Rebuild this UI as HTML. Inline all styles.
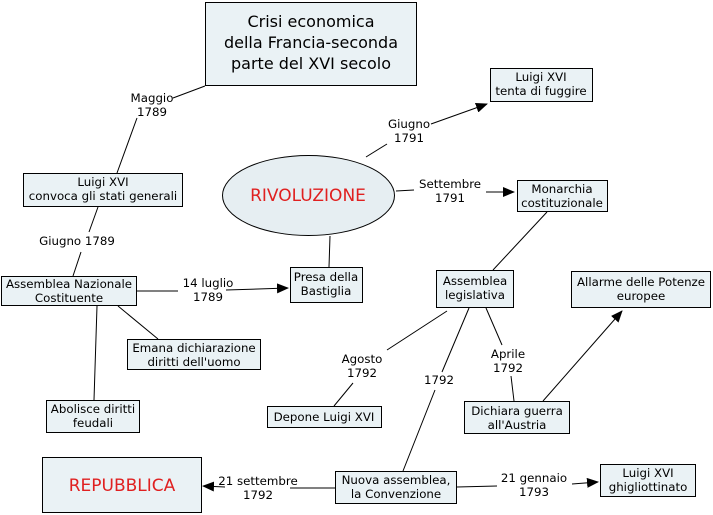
<!DOCTYPE html>
<html><head><meta charset="utf-8"><style>
html,body{margin:0;padding:0;background:#fff;}
svg{display:block;}
text{font-family:"DejaVu Sans","Liberation Sans",sans-serif;font-size:11.8px;fill:#000;text-anchor:middle;}
.b{fill:#eaf2f5;stroke:#000;stroke-width:1;}
.l{stroke:#000;stroke-width:1;fill:none;}
</style></head><body>
<svg width="713" height="515" viewBox="0 0 713 515">
<defs><marker id="a" markerWidth="12" markerHeight="10" refX="11" refY="5" orient="auto" markerUnits="userSpaceOnUse"><path d="M0,0 L12,5 L0,10 z" fill="#000"/></marker></defs>
<path class="l" d="M205,86 L173,98 M137,118 L117,173"/>
<path class="l" d="M98,207 L89,232 M81,252 L73,276"/>
<path class="l" d="M137,291 L178,291"/>
<path class="l" d="M226,290 L288,288" marker-end="url(#a)"/>
<path class="l" d="M330,236 L329,267"/>
<path class="l" d="M366,157 L387,144"/>
<path class="l" d="M431,124 L487,104" marker-end="url(#a)"/>
<path class="l" d="M396,191 L414,190"/>
<path class="l" d="M486,192 L514,192" marker-end="url(#a)"/>
<path class="l" d="M547,212 L493,270"/>
<path class="l" d="M447,311 L387,350 M353,383 L334,406"/>
<path class="l" d="M469,308 L442,372 M435,390 L403,471"/>
<path class="l" d="M486,308 L502,345 M511,376 L514,401"/>
<path class="l" d="M543,401 L622,311" marker-end="url(#a)"/>
<path class="l" d="M118,306 L158,339 M97,306 L94,400"/>
<path class="l" d="M335,488 L290,488"/>
<path class="l" d="M225,487 L203,486" marker-end="url(#a)"/>
<path class="l" d="M457,487 L497,486"/>
<path class="l" d="M572,484 L598,482" marker-end="url(#a)"/>
<rect class="b" x="205.5" y="2.5" width="211" height="83"/>
<text x="311" y="27" style="font-size:16px">Crisi economica</text>
<text x="311" y="48" style="font-size:16px">della Francia-seconda</text>
<text x="311" y="69" style="font-size:16px">parte del XVI secolo</text>
<rect class="b" x="490.5" y="68.5" width="102" height="33"/>
<text x="541" y="81">Luigi XVI</text><text x="541" y="95">tenta di fuggire</text>
<rect class="b" x="23.5" y="173.5" width="159" height="33"/>
<text x="103" y="186">Luigi XVI</text><text x="103" y="200">convoca gli stati generali</text>
<ellipse cx="308.5" cy="195.5" rx="86" ry="40" fill="#e6eef2" stroke="#000"/>
<text x="308" y="201" style="font-size:17px;fill:#e02020">RIVOLUZIONE</text>
<rect class="b" x="517.5" y="180.5" width="90" height="31"/>
<text x="562" y="193">Monarchia</text><text x="562" y="207">costituzionale</text>
<rect class="b" x="1.5" y="276.5" width="135" height="29"/>
<text x="69" y="288">Assemblea Nazionale</text><text x="69" y="302">Costituente</text>
<rect class="b" x="290.5" y="267.5" width="72" height="35"/>
<text x="326" y="281">Presa della</text><text x="326" y="295">Bastiglia</text>
<rect class="b" x="436.5" y="270.5" width="77" height="37"/>
<text x="475" y="285">Assemblea</text><text x="475" y="299">legislativa</text>
<rect class="b" x="571.5" y="271.5" width="139" height="36"/>
<text x="641" y="286">Allarme delle Potenze</text><text x="641" y="300">europee</text>
<rect class="b" x="127.5" y="339.5" width="133" height="30"/>
<text x="194" y="352">Emana dichiarazione</text><text x="194" y="366">diritti dell'uomo</text>
<rect class="b" x="46.5" y="400.5" width="93" height="32"/>
<text x="93" y="413">Abolisce diritti</text><text x="93" y="427">feudali</text>
<rect class="b" x="267.5" y="406.5" width="114" height="21"/>
<text x="324" y="421">Depone Luigi XVI</text>
<rect class="b" x="464.5" y="401.5" width="105" height="32"/>
<text x="517" y="415">Dichiara guerra</text><text x="517" y="429">all'Austria</text>
<rect class="b" x="42.5" y="457.5" width="159" height="55"/>
<text x="122" y="491" style="font-size:17px;fill:#e02020">REPUBBLICA</text>
<rect class="b" x="335.5" y="471.5" width="121" height="32"/>
<text x="396" y="484">Nuova assemblea,</text><text x="396" y="498">la Convenzione</text>
<rect class="b" x="600.5" y="464.5" width="95" height="32"/>
<text x="648" y="477">Luigi XVI</text><text x="648" y="491">ghigliottinato</text>
<text x="152" y="102">Maggio</text><text x="152" y="116">1789</text>
<text x="77" y="245">Giugno 1789</text>
<text x="208" y="287">14 luglio</text><text x="208" y="301">1789</text>
<text x="409" y="128">Giugno</text><text x="409" y="142">1791</text>
<text x="450" y="188">Settembre</text><text x="450" y="202">1791</text>
<text x="362" y="363">Agosto</text><text x="362" y="377">1792</text>
<text x="439" y="384">1792</text>
<text x="508" y="358">Aprile</text><text x="508" y="372">1792</text>
<text x="258" y="485">21 settembre</text><text x="258" y="499">1792</text>
<text x="534" y="482">21 gennaio</text><text x="534" y="496">1793</text>
</svg>
</body></html>
